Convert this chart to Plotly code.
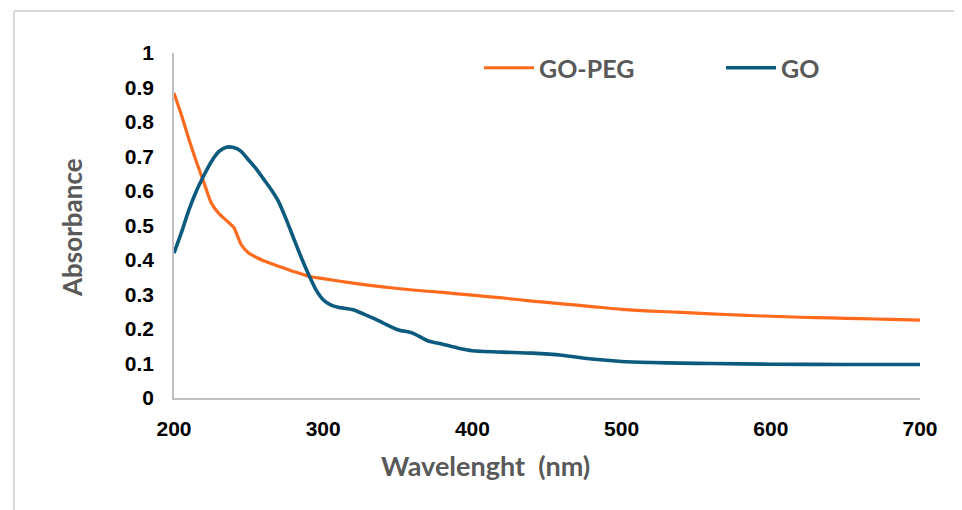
import plotly.graph_objects as go

# ---- data ----
peg_nm = [200, 205, 210, 215, 220, 225, 230, 235, 240, 245, 250, 255, 260, 270, 280, 290,
          300, 320, 340, 360, 380, 400, 420, 440, 460, 480, 500, 520, 540, 560, 580, 600,
          620, 640, 660, 680, 700]
peg_abs = [0.884, 0.82, 0.75, 0.685, 0.625, 0.565, 0.535, 0.515, 0.495, 0.445, 0.42, 0.408,
           0.398, 0.382, 0.367, 0.353, 0.346, 0.333, 0.322, 0.313, 0.306, 0.298, 0.29, 0.281,
           0.273, 0.265, 0.257, 0.252, 0.248, 0.244, 0.24, 0.237, 0.234, 0.232, 0.23, 0.228,
           0.226]

go_nm = [200, 205, 210, 215, 220, 225, 230, 235, 240, 245, 250, 255, 260, 265, 270, 275,
         280, 285, 290, 295, 300, 305, 310, 320, 330, 340, 350, 360, 370, 380, 390, 400,
         420, 440, 460, 480, 500, 520, 540, 560, 600, 650, 700]
go_abs = [0.42, 0.48, 0.545, 0.6, 0.645, 0.685, 0.714, 0.727, 0.726, 0.715, 0.69, 0.665,
          0.635, 0.605, 0.57, 0.52, 0.465, 0.41, 0.36, 0.315, 0.285, 0.27, 0.263, 0.256,
          0.238, 0.218, 0.198, 0.188, 0.166, 0.156, 0.145, 0.137, 0.133, 0.13, 0.124, 0.113,
          0.106, 0.103, 0.101, 0.1, 0.098, 0.097, 0.097]

x_ticks = [200, 300, 400, 500, 600, 700]
y_ticks = [0, 0.1, 0.2, 0.3, 0.4, 0.5, 0.6, 0.7, 0.8, 0.9, 1]
y_tick_text = ["0", "0.1", "0.2", "0.3", "0.4", "0.5", "0.6", "0.7", "0.8", "0.9", "1"]

series_names = ["GO-PEG", "GO"]
x_title = "Wavelenght\u00a0\u00a0(nm)"
y_title = "Absorbance"

ORANGE = "#FF6A1C"
BLUE = "#0C5B7E"
GRAY_TXT = "#595959"

# page has an 8px body margin; figure is sized so the page matches the reference
OFF = 8
W, H = 962 - OFF, 510 - OFF
ML, MR, MT, MB = 166, 42, 45, 112
PW, PH = W - ML - MR, H - MT - MB


def px2paper(px, py):
    # px, py are page pixel coordinates of the reference
    fx, fy = px - OFF, py - OFF
    return (fx - ML) / PW, (H - MB - fy) / PH


fig = go.Figure()
fig.add_trace(go.Scatter(x=peg_nm, y=peg_abs, mode="lines", name=series_names[0],
                         legend="legend",
                         line=dict(color=ORANGE, width=3.2, shape="spline", smoothing=0.6)))
fig.add_trace(go.Scatter(x=go_nm, y=go_abs, mode="lines", name=series_names[1],
                         legend="legend2",
                         line=dict(color=BLUE, width=3.6, shape="spline", smoothing=0.6)))

tick_font = dict(family="Liberation Sans, Arial, sans-serif", size=21, color="#000000", weight="bold")
legend_font = dict(family="Lato, sans-serif", size=25, color=GRAY_TXT, weight="bold")

fig.update_xaxes(range=[200, 700], tickvals=x_ticks, ticktext=[str(v) for v in x_ticks],
                 showgrid=False, zeroline=False, showline=True, linecolor="#BFBFBF", linewidth=1.5,
                 ticks="", tickfont=tick_font, ticklabelstandoff=11)
fig.update_yaxes(range=[0, 1], tickvals=y_ticks, ticktext=y_tick_text,
                 showgrid=False, zeroline=False, showline=True, linecolor="#BFBFBF", linewidth=1.5,
                 ticks="", tickfont=tick_font, ticklabelstandoff=14)

l1x, l1y = px2paper(479, 68)
l2x, l2y = px2paper(721, 68)
fig.update_layout(
    width=W, height=H,
    margin=dict(l=ML, r=MR, t=MT, b=MB, autoexpand=False),
    paper_bgcolor="white", plot_bgcolor="white",
    showlegend=True,
    legend=dict(orientation="h", x=l1x, y=l1y, xanchor="left", yanchor="middle",
                font=legend_font, itemwidth=50, bgcolor="rgba(0,0,0,0)"),
    legend2=dict(orientation="h", x=l2x, y=l2y, xanchor="left", yanchor="middle",
                 font=legend_font, itemwidth=50, bgcolor="rgba(0,0,0,0)"),
)

ax, ay = px2paper(485, 465)
bx, by = px2paper(72, 228)
fig.add_annotation(text=x_title, xref="paper", yref="paper", x=ax, y=ay,
                   xanchor="center", yanchor="middle", showarrow=False,
                   font=dict(family="Lato, sans-serif", size=27, color=GRAY_TXT, weight="bold"))
fig.add_annotation(text=y_title, xref="paper", yref="paper", x=bx, y=by, textangle=-90,
                   xanchor="center", yanchor="middle", showarrow=False,
                   font=dict(family="Lato, sans-serif", size=26, color=GRAY_TXT, weight="bold"))

# light frame around the chart (top and left edges visible)
fx0, fy0 = px2paper(14, 11)
fx1, fy1 = px2paper(962, 510)
fig.add_shape(type="line", xref="paper", yref="paper", x0=fx0, y0=fy0, x1=fx1, y1=fy0,
              line=dict(color="#D9D9D9", width=2))
fig.add_shape(type="line", xref="paper", yref="paper", x0=fx0, y0=fy0, x1=fx0, y1=fy1,
              line=dict(color="#D9D9D9", width=2))

fig.write_html("out.html")
